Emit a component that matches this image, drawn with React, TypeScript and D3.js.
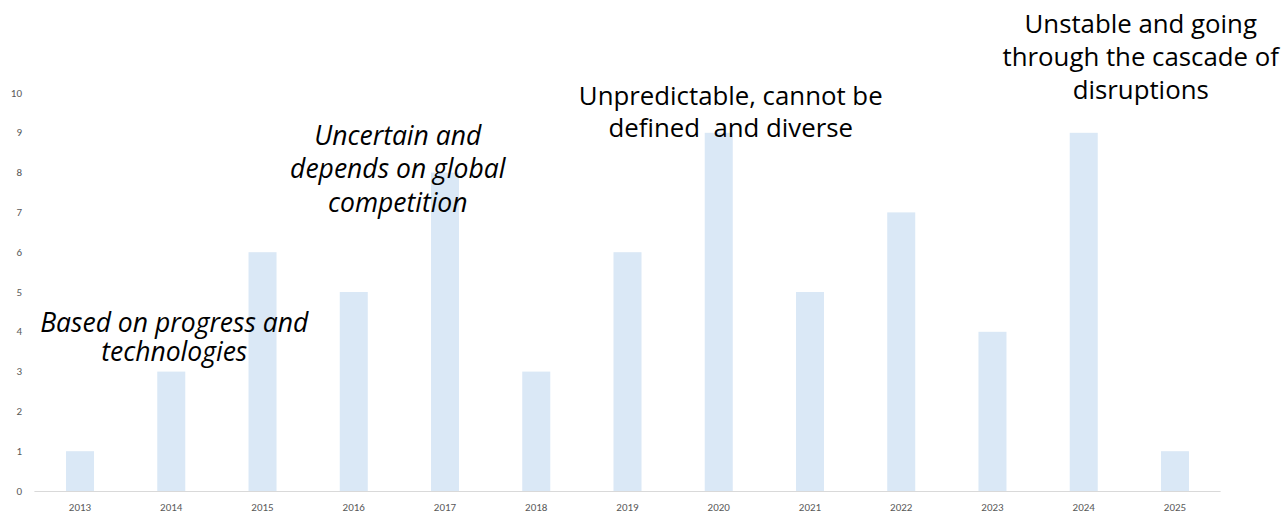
import React from "react";
import * as d3 from "d3";

const years = ["2013","2014","2015","2016","2017","2018","2019","2020","2021","2022","2023","2024","2025"];
const counts = [1,3,6,5,8,3,6,9,5,7,4,9,1];
const yTicks = [0,1,2,3,4,5,6,7,8,9,10];

type Note = { lines: string[]; year: string; value: number; italic: boolean; dx: number; lh: number };
const notes: Note[] = [
  { lines: ["Based on progress and", "technologies"], year: "2014", value: 4.25, italic: true, dx: 3, lh: 29 },
  { lines: ["Uncertain and", "depends on global", "competition"], year: "2016", value: 8.95, italic: true, dx: 44, lh: 33.5 },
  { lines: ["Unpredictable, cannot be", "defined  and diverse"], year: "2020", value: 9.95, italic: false, dx: 12, lh: 32.5 },
  { lines: ["Unstable and going", "through the cascade of", "disruptions"], year: "2024", value: 11.75, italic: false, dx: 57, lh: 33 },
];

const W = 1281, H = 513;
const left = 34.4, right = 1220.6, top = 93, bottom = 491;

export default function App() {
  const x = d3.scaleBand<string>().domain(years).range([left, right]).paddingInner(0.693).paddingOuter(0.3465);
  const y = d3.scaleLinear().domain([0, 10]).range([bottom, top]);
  const font = "'Open Sans', sans-serif";
  return (
    <svg width={W} height={H} style={{ position: "absolute", left: 0, top: 0, background: "#fff" }}>
      {years.map((yr, i) => (
        <rect key={yr} x={x(yr)} y={y(counts[i])} width={x.bandwidth()} height={y(0) - y(counts[i])} fill="#dae8f6" />
      ))}
      <line x1={left} x2={right} y1={bottom + 0.5} y2={bottom + 0.5} stroke="#d9d9d9" strokeWidth={1} />
      {yTicks.map(t => (
        <text key={t} x={22} y={y(t)} textAnchor="end" dominantBaseline="central" fontSize={11} fill="#595959" fontFamily="Calibri, Carlito, 'Liberation Sans', sans-serif">{t}</text>
      ))}
      {years.map(yr => (
        <text key={yr} x={(x(yr) as number) + x.bandwidth() / 2} y={507} textAnchor="middle" dominantBaseline="central" fontSize={11} fill="#595959" fontFamily="Calibri, Carlito, 'Liberation Sans', sans-serif">{yr}</text>
      ))}
      {notes.map((n, k) => {
        const cx = (x(n.year) as number) + x.bandwidth() / 2 + n.dx;
        const cy = y(n.value);
        return (
          <text key={k} textAnchor="middle" fontSize={n.italic ? 26.5 : 25.8} fontStyle={n.italic ? "italic" : "normal"} fill="#000" fontFamily={font} style={{ whiteSpace: "pre" }}>
            {n.lines.map((l, j) => (
              <tspan key={j} x={cx} y={cy + j * n.lh} dominantBaseline="central">{l}</tspan>
            ))}
          </text>
        );
      })}
    </svg>
  );
}
